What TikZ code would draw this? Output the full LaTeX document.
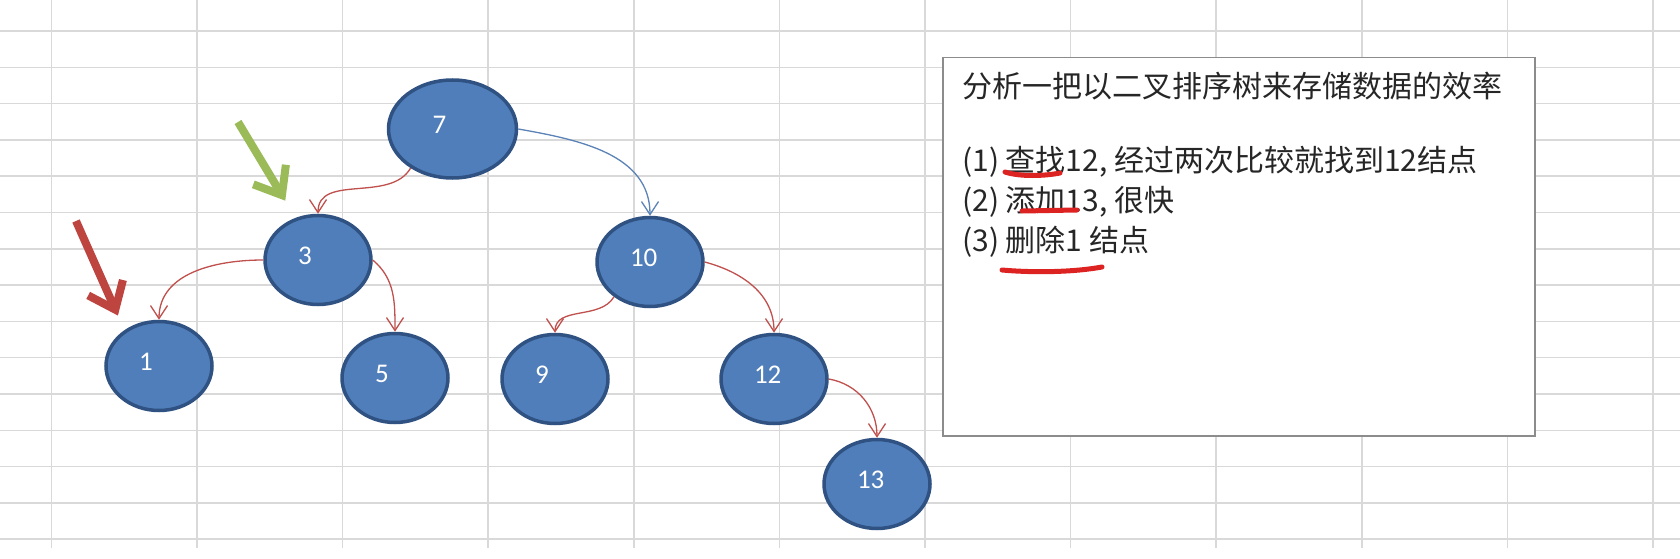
\documentclass[tikz,border=0pt]{standalone}
\usepackage{tikz}
\usetikzlibrary{arrows.meta,shapes.geometric}
\usepackage{fontspec}
\setmainfont{Carlito}
\newfontfamily\cjk{Noto Sans CJK SC}
\usepackage{xcolor}
\definecolor{nodeblue}{HTML}{4F7EBA}
\definecolor{nodeedge}{HTML}{2F5282}
\definecolor{linkred}{HTML}{C0504D}
\definecolor{linkblue}{HTML}{5B83B8}
\definecolor{gridgray}{HTML}{D9D9D9}
\definecolor{arrowgreen}{HTML}{9BBB59}
\definecolor{arrowred}{HTML}{BE4440}
\definecolor{inkred}{HTML}{DD2222}

\begin{document}
\begin{tikzpicture}[x=1pt,y=1pt,
    bst/.style={ellipse,draw=nodeedge,line width=3.5pt,fill=nodeblue,text=white,
      minimum width=106pt,minimum height=89pt,text width=40pt,align=left,text depth=8pt,
      font=\fontsize{27pt}{27pt}\selectfont},
    link/.style={->,>={Straight Barb[length=13pt,width=17pt]},draw=linkred,line width=1.3pt},
    pointer/.style={-{Straight Barb[length=24pt,width=38pt]},line width=8pt},
    gridline/.style={draw=gridgray,line width=1.5pt},
    scribble/.style={draw=inkred,line width=5pt,line cap=round},
    boxtext/.style={anchor=base west,inner sep=0pt,text=black!85,font=\cjk\fontsize{30pt}{36pt}\selectfont}]
  \useasboundingbox (0,0) rectangle (1680,558);
  \fill[white] (0,0) rectangle (1680,558);
  \foreach \k in {0,...,14}
    \draw[gridline] (0,{527-36.3*\k}) -- (1680,{527-36.3*\k});
  \foreach \k in {0,...,11}
    \draw[gridline] ({51.4+145.6*\k},10) -- ({51.4+145.6*\k},558);

  \node[bst,minimum width=128pt,minimum height=98pt] (n7) at (452.5,429) {7};
  \node[bst] (n3) at (318,298) {3};
  \node[bst] (n10) at (650,296) {10};
  \node[bst] (n1) at (159,192) {1};
  \node[bst] (n5) at (395,180) {5};
  \node[bst] (n9) at (555,179) {9};
  \node[bst] (n12) at (774,179) {12};
  \node[bst] (n13) at (877,74) {13};

  \draw[link] (n7.223) to[out=-120,in=90] (n3.north);
  \draw[link,draw=linkblue] (n7.east) to[out=-10,in=90] (n10.north);
  \draw[link] (n3.west) to[out=180,in=90] (n1.north);
  \draw[link] (n3.east) to[out=-40,in=90] (n5.north);
  \draw[link] (n10.224) to[out=-120,in=90] (n9.north);
  \draw[link] (n10.east) to[out=-15,in=90] (n12.north);
  \draw[link] (n12.east) to[out=-10,in=90] (n13.north);

  \coordinate (gtail) at (238,436);
  \coordinate (rtail) at (76,337);
  \draw[pointer,draw=arrowgreen,shorten >=20pt] (gtail) -- (n3.118);
  \draw[pointer,draw=arrowred,shorten >=16pt] (rtail) -- (n1.134);

  \node[draw=black!45,line width=1.5pt,fill=white,minimum width=592pt,minimum height=378pt,
    anchor=north west,inner sep=0pt] (note) at (942,501) {};
  \node[boxtext] (title) at (962,460) {分析一把以二叉排序树来存储数据的效率};
  \node[boxtext] (q1) at (962,387) {(1) 查找12, 经过两次比较就找到12结点};
  \node[boxtext] (q2) at (962,347) {(2) 添加13, 很快};
  \node[boxtext] (q3) at (962,307) {(3) 删除1 结点};
  \draw[scribble] (1005,386) .. controls (1020,381) and (1045,382) .. (1060,385);
  \draw[scribble] (1022,347) -- (1077,348);
  \draw[scribble] (1002,288) .. controls (1035,285) and (1075,286) .. (1102,291);
\end{tikzpicture}
\end{document}
